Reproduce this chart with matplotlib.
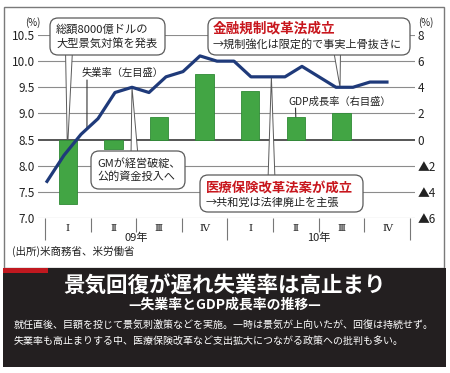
import numpy as np
import matplotlib.pyplot as plt
from matplotlib.patches import Rectangle, FancyBboxPatch, ConnectionPatch, Polygon

plt.rcParams['font.family'] = ['Noto Sans CJK JP', 'DejaVu Sans']

# monthly unemployment rate, Jan 2009 - Sep 2010 (left scale, %)
months = list(range(21))
unemployment = [7.7, 8.2, 8.6, 8.9, 9.4, 9.5, 9.4, 9.7, 9.8, 10.1, 10.0, 10.0,
                9.7, 9.7, 9.7, 9.9, 9.7, 9.5, 9.5, 9.6, 9.6]
# quarterly GDP growth (right scale, %)
quarters = ['Ⅰ', 'Ⅱ', 'Ⅲ', 'Ⅳ', 'Ⅰ', 'Ⅱ', 'Ⅲ', 'Ⅳ']
gdp_growth = [-4.9, -0.7, 1.7, 5.0, 3.7, 1.7, 2.0]
years = ['09年', '10年']
left_ticks = [7.0, 7.5, 8.0, 8.5, 9.0, 9.5, 10.0, 10.5]
right_ticks = [-6, -4, -2, 0, 2, 4, 6, 8]
right_labels = ['▲6', '▲4', '▲2', '0', '2', '4', '6', '8']

W, H = 450, 373
fig = plt.figure(figsize=(W / 100, H / 100), dpi=100)


def fx(px):
    return px / W


def fy(py):
    return 1 - py / H


TXT = '#222222'
RED = '#c8161d'
GRID = '#8c8c8c'
EDGE = '#5a5a5a'

rect = [fx(38), fy(218), fx(415) - fx(38), fy(35) - fy(218)]

# bars + grid (right scale)
axb = fig.add_axes(rect, zorder=1)
axb.set_xlim(-0.654, 7.614)
axb.set_ylim(-6, 8)
for s in axb.spines.values():
    s.set_visible(False)
for v in right_ticks:
    axb.axhline(v, color='#555555' if v == 0 else GRID,
                lw=1.4 if v == 0 else 0.8, zorder=0.5)
axb.bar(range(len(gdp_growth)), gdp_growth, width=0.4, color='#42a544',
        edgecolor='#2f8a35', lw=0.6, zorder=2)
axb.yaxis.tick_right()
axb.set_yticks(right_ticks, right_labels)
axb.tick_params(axis='y', length=0, pad=2, labelsize=8.5, labelcolor=TXT)
axb.set_xticks(np.arange(-0.5, 8, 4), [])
axb.set_xticks([0.5, 1.5, 2.5, 4.5, 5.5, 6.5], minor=True)
axb.tick_params(axis='x', which='major', length=16, width=0.8, color='#777777')
axb.tick_params(axis='x', which='minor', length=10, width=0.8, color='#777777')
xt = axb.get_xaxis_transform()
for i, q in enumerate(quarters):
    axb.text(i, -0.055, q, transform=xt, ha='center', va='center',
             fontsize=7.5, color=TXT, family=['DejaVu Serif', 'Noto Sans CJK JP'])
for k, y in enumerate(years):
    axb.text(4 * k + 1.5, -0.11, y, transform=xt, ha='center', va='center',
             fontsize=8, color=TXT)

# unemployment line (left scale)
axl = fig.add_axes(rect, zorder=2, frameon=False)
axl.set_xlim(-0.53, 21.65)
axl.set_ylim(7.0, 10.5)
axl.plot(months, unemployment, color='#1f3a7a', lw=2.3, zorder=3,
         solid_joinstyle='round')
axl.set_xticks([])
axl.set_yticks(left_ticks, ['%.1f' % t for t in left_ticks])
axl.tick_params(axis='y', length=0, pad=2, labelsize=8.5, labelcolor=TXT)

fig.text(fx(25), fy(23), '(%)', fontsize=7, color=TXT, va='center')
fig.text(fx(418), fy(23), '(%)', fontsize=7, color=TXT, va='center')


def box(x0, y0, x1, y1):
    p = FancyBboxPatch((fx(x0), fy(y1)), fx(x1) - fx(x0), fy(y0) - fy(y1),
                       boxstyle='round,pad=0,rounding_size=0.018',
                       mutation_aspect=W / H, transform=fig.transFigure,
                       fc='white', ec=EDGE, lw=0.9, zorder=5)
    fig.patches.append(p)


def wedge(bx, by, tip, ax, half=3.5):
    # callout pointer: narrow triangle from inside the box to the data point
    tx, ty = fig.transFigure.inverted().transform(ax.transData.transform(tip))
    pts = [(fx(bx - half), fy(by)), (fx(bx + half), fy(by)), (tx, ty)]
    poly = Polygon(pts, closed=True, transform=fig.transFigure, fc='white',
                   ec=EDGE, lw=0.7, clip_on=False, zorder=1.5)
    axb.add_artist(poly)


def leader(bx, by, tip, ax):
    cp = ConnectionPatch((fx(bx), fy(by)), tip, 'figure fraction', ax.transData,
                         arrowstyle='-', color='#333333', lw=0.8,
                         shrinkA=0, shrinkB=0, clip_on=False, zorder=1)
    ax.add_artist(cp)


def on_line(m):
    return (m, np.interp(m, months, unemployment))


# stimulus
box(50, 18, 165, 55)
fig.text(fx(56), fy(37), '総額8000億ドルの\n大型景気対策を発表', fontsize=8.1,
         color=TXT, va='center', ha='left', linespacing=1.35, zorder=6)
wedge(69, 50, on_line(1.2), axl)

# financial regulation
box(208, 18, 410, 55)
fig.text(fx(213), fy(28), '金融規制改革法成立', fontsize=9.8, fontweight='bold',
         color=RED, va='center', zorder=6)
fig.text(fx(213), fy(44), '→規制強化は限定的で事実上骨抜きに', fontsize=8,
         color=TXT, va='center', zorder=6)
wedge(337, 50, on_line(17.24), axl)

# GM
box(91, 151, 185, 189)
fig.text(fx(97), fy(170), 'GMが経営破綻、\n公的資金投入へ', fontsize=8,
         color=TXT, va='center', ha='left', linespacing=1.35, zorder=6)
wedge(134.5, 156, on_line(5), axl)

# health care
box(200, 175, 363, 212)
fig.text(fx(206), fy(188), '医療保険改革法案が成立', fontsize=9.6, fontweight='bold',
         color=RED, va='center', zorder=6)
fig.text(fx(206), fy(203), '→共和党は法律廃止を主張', fontsize=8,
         color=TXT, va='center', zorder=6)
wedge(271.5, 180, on_line(13.2), axl)

# series labels
fig.text(fx(82), fy(73), '失業率（左目盛）', fontsize=7.4, color=TXT, va='center')
leader(87, 80, on_line(2.35), axl)
fig.text(fx(288), fy(102), 'GDP成長率（右目盛）', fontsize=7.4, color=TXT, va='center')
leader(295.5, 108, (5, gdp_growth[5]), axb)

fig.text(fx(12), fy(251), '(出所)米商務省、米労働省', fontsize=7.6, color=TXT, va='center')

# frame and bottom panel
fig.patches.append(Rectangle((fx(4), fy(268)), fx(444) - fx(4), fy(7) - fy(268),
                             transform=fig.transFigure, fill=False, ec='#7a7a7a',
                             lw=1, zorder=0))
fig.patches.append(Rectangle((fx(3), fy(367)), fx(446) - fx(3), fy(268) - fy(367),
                             transform=fig.transFigure, fc='#231f20', ec='none', zorder=7))
fig.patches.append(Rectangle((fx(3), fy(273)), fx(48) - fx(3), fy(268) - fy(273),
                             transform=fig.transFigure, fc='#c0181f', ec='none', zorder=8))
fig.text(0.5, fy(286), '景気回復が遅れ失業率は高止まり', fontsize=15.5, fontweight='bold',
         color='white', ha='center', va='center', zorder=9)
fig.text(0.5, fy(305), '—失業率とGDP成長率の推移—', fontsize=10, fontweight='bold',
         color='white', ha='center', va='center', zorder=9)
fig.text(fx(14), fy(326), '就任直後、巨額を投じて景気刺激策などを実施。一時は景気が上向いたが、回復は持続せず。',
         fontsize=7.2, color='white', va='center', zorder=9)
fig.text(fx(14), fy(341), '失業率も高止まりする中、医療保険改革など支出拡大につながる政策への批判も多い。',
         fontsize=7.2, color='white', va='center', zorder=9)

fig.savefig('out.png', dpi=100)
